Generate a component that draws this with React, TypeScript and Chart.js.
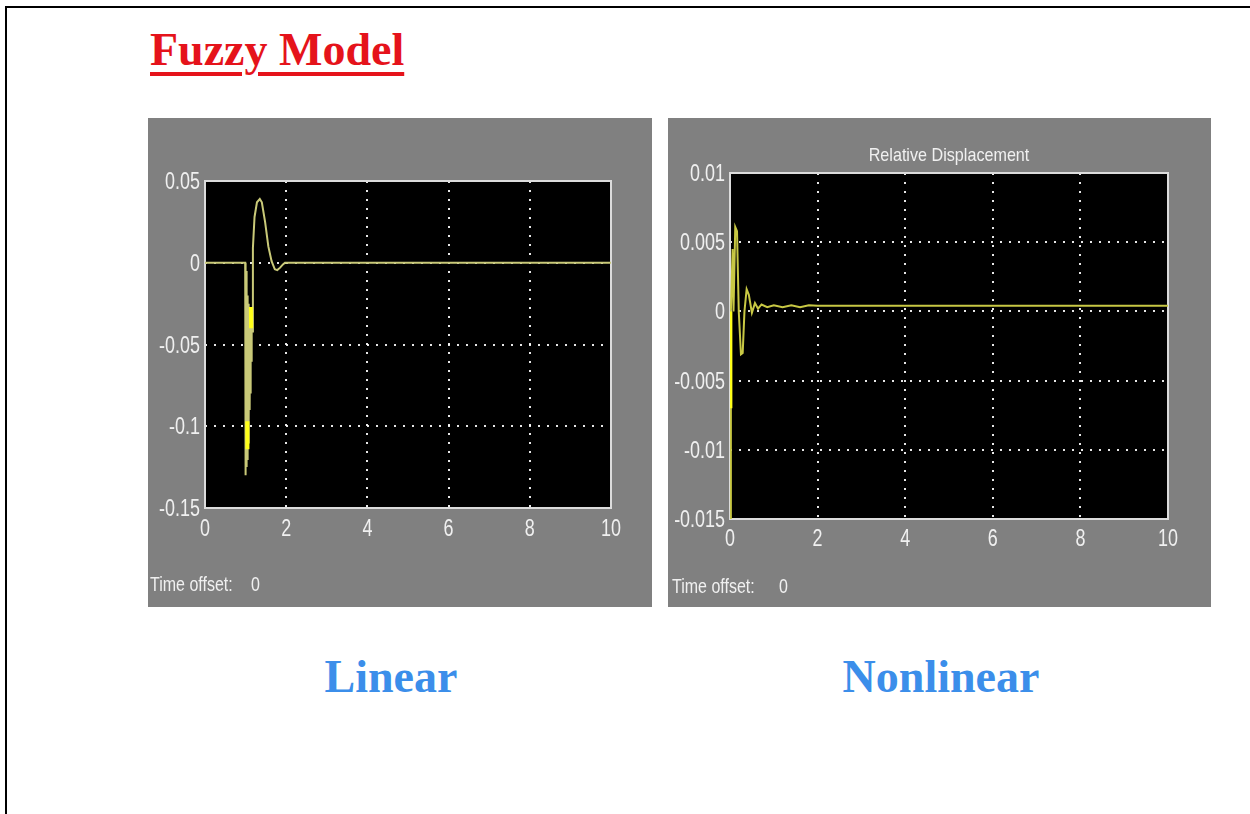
import React, { useEffect, useRef } from "react";
import { Chart, registerables } from "chart.js";

Chart.register(...registerables);

// ---------- Data ----------
const linearTime = [0, 0.99, 1.0, 1.01, 1.02, 1.03, 1.04, 1.05, 1.06, 1.07, 1.08, 1.09, 1.1, 1.11, 1.12, 1.13, 1.14, 1.15, 1.16, 1.18, 1.22, 1.28, 1.35, 1.4, 1.48, 1.56, 1.64, 1.72, 1.78, 1.85, 1.92, 1.97, 10];
const linearValue = [0, 0, -0.13, -0.005, -0.125, -0.015, -0.12, -0.02, -0.11, -0.025, -0.1, -0.03, -0.09, -0.03, -0.08, -0.035, -0.06, -0.04, -0.042, 0.009, 0.028, 0.037, 0.039, 0.037, 0.025, 0.01, 0.001, -0.004, -0.0045, -0.003, -0.001, 0, 0];
const linearHighlightTime = [1.04, 1.045, 1.09, 1.13, 1.135];
const linearHighlightValue = [-0.097, -0.114, null, -0.027, -0.04];

const nonlinearTime = [0, 0.02, 0.06, 0.08, 0.12, 0.16, 0.2, 0.25, 0.29, 0.33, 0.38, 0.43, 0.5, 0.57, 0.64, 0.72, 0.85, 1.0, 1.2, 1.4, 1.6, 1.8, 2.0, 10];
const nonlinearValue = [-0.0155, 0, 0.0045, 0, 0.0061, 0.0058, 0, -0.0031, -0.003, 0, 0.0016, 0.0012, -0.0001, 0.0006, 0.0002, 0.0005, 0.0003, 0.00045, 0.0003, 0.00045, 0.0003, 0.00045, 0.0004, 0.0004];
const nonlinearHighlightTime = [0.02, 0.02];
const nonlinearHighlightValue = [0, -0.007];

const xTickValues = [0, 2, 4, 6, 8, 10];
const xTickLabels = ["0", "2", "4", "6", "8", "10"];
const linearYTickValues = [0.05, 0, -0.05, -0.1, -0.15];
const linearYTickLabels = ["0.05", "0", "-0.05", "-0.1", "-0.15"];
const nonlinearYTickValues = [0.01, 0.005, 0, -0.005, -0.01, -0.015];
const nonlinearYTickLabels = ["0.01", "0.005", "0", "-0.005", "-0.01", "-0.015"];

const pageTitle = "Fuzzy Model";
const leftCaption = "Linear";
const rightCaption = "Nonlinear";
const rightPlotTitle = "Relative Displacement";
const timeOffsetLabel = "Time offset:";
const timeOffsetValue = "0";

// ---------- Helpers ----------
const SANS = "'Liberation Sans', Arial, sans-serif";
const TEXT_COLOR = "#f0f0f0";

function toPoints(xs: number[], ys: (number | null)[]) {
  return xs.map((x, i) => ({ x, y: ys[i] }));
}

function drawNarrow(
  ctx: CanvasRenderingContext2D,
  text: string,
  x: number,
  y: number,
  size: number,
  align: CanvasTextAlign,
  sx: number
) {
  ctx.save();
  ctx.translate(x, y);
  ctx.scale(sx, 1);
  ctx.font = `${size}px ${SANS}`;
  ctx.textAlign = align;
  ctx.textBaseline = "alphabetic";
  ctx.fillStyle = TEXT_COLOR;
  ctx.fillText(text, 0, 0);
  ctx.restore();
}

type ScopeProps = {
  left: number;
  top: number;
  width: number;
  height: number;
  plotLeft: number;
  plotTop: number;
  plotRight: number;
  plotBottom: number;
  mainX: number[];
  mainY: number[];
  hiX: number[];
  hiY: (number | null)[];
  hiWidth: number;
  mainColor: string;
  yMin: number;
  yMax: number;
  yValues: number[];
  yLabels: string[];
  xLabelBaseline: number;
  title?: string;
  titleX?: number;
  titleY?: number;
  offsetX: number;
  offsetValueX: number;
  offsetY: number;
};

function Scope(p: ScopeProps) {
  const ref = useRef<HTMLCanvasElement | null>(null);
  useEffect(() => {
    if (!ref.current) return;
    const scopePlugin = {
      id: "scopePlugin",
      beforeDraw(chart: any) {
        const { ctx, chartArea } = chart;
        ctx.save();
        ctx.fillStyle = "#808080";
        ctx.fillRect(0, 0, chart.width, chart.height);
        ctx.fillStyle = "#000000";
        ctx.fillRect(chartArea.left, chartArea.top, chartArea.right - chartArea.left, chartArea.bottom - chartArea.top);
        ctx.restore();
      },
      beforeDatasetsDraw(chart: any) {
        const { ctx, chartArea } = chart;
        ctx.save();
        ctx.strokeStyle = "#dcdcdc";
        ctx.lineWidth = 2;
        ctx.strokeRect(chartArea.left, chartArea.top, chartArea.right - chartArea.left, chartArea.bottom - chartArea.top);
        ctx.restore();
      },
      afterDraw(chart: any) {
        const { ctx, chartArea } = chart;
        const xs = chart.scales.x;
        const ys = chart.scales.y;
        xTickValues.forEach((v, i) => {
          drawNarrow(ctx, xTickLabels[i], xs.getPixelForValue(v), chartArea.bottom + p.xLabelBaseline, 23, "center", 0.78);
        });
        p.yValues.forEach((v, i) => {
          drawNarrow(ctx, p.yLabels[i], chartArea.left - 5, ys.getPixelForValue(v) + 8, 23, "right", 0.78);
        });
        drawNarrow(ctx, timeOffsetLabel, p.offsetX, p.offsetY, 20, "left", 0.8);
        drawNarrow(ctx, timeOffsetValue, p.offsetValueX, p.offsetY, 20, "left", 0.8);
        if (p.title) {
          drawNarrow(ctx, p.title, p.titleX || 0, p.titleY || 0, 19, "center", 0.85);
        }
      },
    };

    const chart = new Chart(ref.current, {
      type: "line",
      data: {
        datasets: [
          {
            data: toPoints(p.mainX, p.mainY) as any,
            borderColor: p.mainColor,
            borderWidth: 2,
            pointRadius: 0,
            tension: 0,
            fill: false,
            order: 2,
          },
          {
            data: toPoints(p.hiX, p.hiY) as any,
            borderColor: "#ffff1a",
            borderWidth: p.hiWidth,
            pointRadius: 0,
            tension: 0,
            fill: false,
            spanGaps: false,
            order: 1,
          },
        ],
      },
      options: {
        animation: false,
        responsive: false,
        maintainAspectRatio: false,
        events: [],
        layout: { padding: { left: 0, top: p.plotTop, right: p.plotRight, bottom: 0 } },
        plugins: { legend: { display: false }, tooltip: { enabled: false }, title: { display: false } },
        scales: {
          x: {
            type: "linear",
            min: 0,
            max: 10,
            afterBuildTicks: (s: any) => {
              s.ticks = xTickValues.map((v) => ({ value: v }));
            },
            afterFit: (s: any) => {
              s.height = p.plotBottom;
            },
            ticks: { display: false },
            grid: { color: "rgba(255,255,255,0.9)", lineWidth: 2, drawTicks: false },
            border: { display: false, dash: [2, 7] },
          },
          y: {
            type: "linear",
            min: p.yMin,
            max: p.yMax,
            afterBuildTicks: (s: any) => {
              s.ticks = p.yValues.map((v) => ({ value: v }));
            },
            afterFit: (s: any) => {
              s.width = p.plotLeft;
            },
            ticks: { display: false },
            grid: { color: "rgba(255,255,255,0.9)", lineWidth: 2, drawTicks: false },
            border: { display: false, dash: [2, 7] },
          },
        },
      },
      plugins: [scopePlugin],
    } as any);
    return () => chart.destroy();
  }, []);
  return (
    <canvas
      ref={ref}
      width={p.width}
      height={p.height}
      style={{ position: "absolute", left: p.left, top: p.top, width: p.width, height: p.height, display: "block" }}
    />
  );
}

const SERIF = "'Liberation Serif', 'Times New Roman', 'DejaVu Serif', serif";

export default function App() {
  useEffect(() => {
    document.body.style.margin = "0";
    document.body.style.background = "#ffffff";
  }, []);
  return (
    <div style={{ position: "relative", width: 1250, height: 814, overflow: "hidden", background: "#ffffff" }}>
      <div
        style={{
          position: "absolute",
          left: 5,
          top: 6,
          width: 1260,
          height: 820,
          borderTop: "2px solid #000",
          borderLeft: "2px solid #000",
          boxSizing: "border-box",
        }}
      />
      <div
        style={{
          position: "absolute",
          left: 150,
          top: 27,
          fontFamily: SERIF,
          fontWeight: "bold",
          fontSize: 46,
          lineHeight: "46px",
          color: "#e5131b",
          textDecoration: "underline",
          textDecorationThickness: "4px",
          textUnderlineOffset: "7px",
          whiteSpace: "nowrap",
        }}
      >
        {pageTitle}
      </div>
      <Scope
        left={148}
        top={118}
        width={504}
        height={489}
        plotLeft={57}
        plotTop={63}
        plotRight={41}
        plotBottom={99}
        mainX={linearTime}
        mainY={linearValue}
        hiX={linearHighlightTime}
        hiY={linearHighlightValue}
        hiWidth={4}
        mainColor="#c9c978"
        yMin={-0.15}
        yMax={0.05}
        yValues={linearYTickValues}
        yLabels={linearYTickLabels}
        xLabelBaseline={28}
        offsetX={2}
        offsetValueX={103}
        offsetY={473}
      />
      <Scope
        left={668}
        top={118}
        width={543}
        height={489}
        plotLeft={62}
        plotTop={55}
        plotRight={43}
        plotBottom={88}
        mainX={nonlinearTime}
        mainY={nonlinearValue}
        hiX={nonlinearHighlightTime}
        hiY={nonlinearHighlightValue}
        hiWidth={3}
        mainColor="#c8c844"
        yMin={-0.015}
        yMax={0.01}
        yValues={nonlinearYTickValues}
        yLabels={nonlinearYTickLabels}
        xLabelBaseline={27}
        title={rightPlotTitle}
        titleX={281}
        titleY={43}
        offsetX={4}
        offsetValueX={111}
        offsetY={475}
      />
      <div
        style={{
          position: "absolute",
          left: 191,
          top: 654,
          width: 400,
          textAlign: "center",
          fontFamily: SERIF,
          fontWeight: "bold",
          fontSize: 46,
          lineHeight: "46px",
          color: "#3b8eea",
        }}
      >
        {leftCaption}
      </div>
      <div
        style={{
          position: "absolute",
          left: 741,
          top: 654,
          width: 400,
          textAlign: "center",
          fontFamily: SERIF,
          fontWeight: "bold",
          fontSize: 46,
          lineHeight: "46px",
          color: "#3b8eea",
        }}
      >
        {rightCaption}
      </div>
    </div>
  );
}
